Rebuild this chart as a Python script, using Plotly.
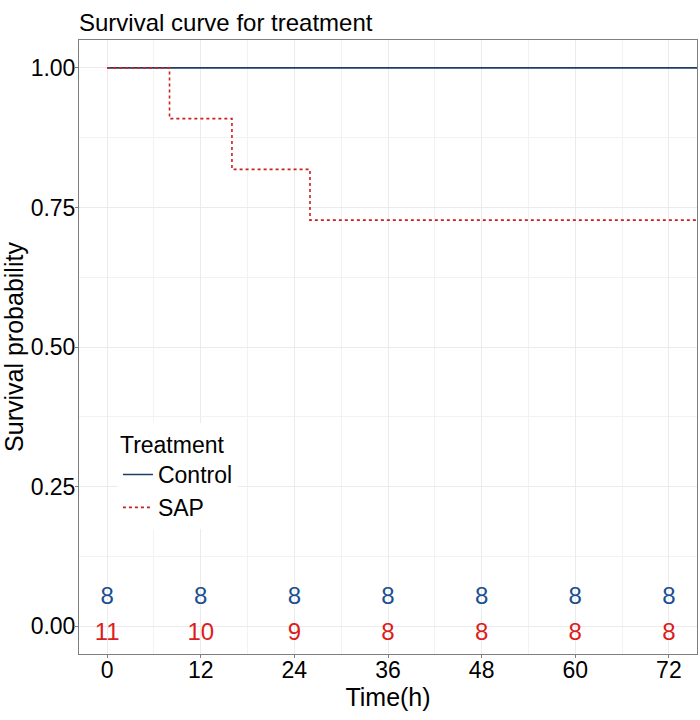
import plotly.graph_objects as go

# Kaplan-Meier step data
time_control = [0, 80]
surv_control = [1.0, 1.0]
time_sap = [0, 8, 16, 26, 80]
surv_sap = [1.0, 10/11, 9/11, 8/11, 8/11]

# Number-at-risk table
risk_times = [0, 12, 24, 36, 48, 60, 72]
risk_control = [8, 8, 8, 8, 8, 8, 8]
risk_sap = [11, 10, 9, 8, 8, 8, 8]

x_ticks = [0, 12, 24, 36, 48, 60, 72]
y_ticks = [0.0, 0.25, 0.5, 0.75, 1.0]
y_ticklabels = ["0.00", "0.25", "0.50", "0.75", "1.00"]

blue_line = "#1c3f63"
red_line = "#cc1f1f"
blue_txt = "#1b4f8f"
red_txt = "#dd1c1c"
font = "Liberation Sans, Arial, sans-serif"

fig = go.Figure()
fig.add_trace(go.Scatter(x=time_control, y=surv_control, mode="lines", name="Control",
                         line=dict(color=blue_line, width=1.6, shape="hv")))
fig.add_trace(go.Scatter(x=time_sap, y=surv_sap, mode="lines", name="SAP",
                         line=dict(color=red_line, width=1.6, shape="hv", dash="dot")))

fig.add_trace(go.Scatter(x=risk_times, y=[0.050] * len(risk_times), mode="text",
                         text=[str(v) for v in risk_control], showlegend=False,
                         textfont=dict(color=blue_txt, size=24, family=font), hoverinfo="skip"))
fig.add_trace(go.Scatter(x=risk_times, y=[-0.015] * len(risk_times), mode="text",
                         text=[str(v) for v in risk_sap], showlegend=False,
                         textfont=dict(color=red_txt, size=24, family=font), hoverinfo="skip"))

minor_grid = dict(showgrid=True, gridcolor="#f2f2f2", gridwidth=0.6)

fig.update_layout(
    width=700, height=720,
    margin=dict(l=79, r=3, t=40, b=66, autoexpand=False),
    paper_bgcolor="white", plot_bgcolor="white",
    font=dict(family=font, color="black"),
    title=dict(text="Survival curve for treatment", xref="paper", x=0, xanchor="left",
               y=1 - 23 / 720, yanchor="middle", font=dict(size=24, color="black")),
    xaxis=dict(range=[-3.6, 75.6], tickvals=x_ticks, ticktext=[str(v) for v in x_ticks],
               tickfont=dict(size=23), showgrid=True, gridcolor="#ebebeb", gridwidth=1,
               minor=dict(tickvals=[6, 18, 30, 42, 54, 66], **minor_grid),
               zeroline=False, showline=True, linecolor="#7f7f7f", linewidth=1, mirror=True,
               ticks="outside", ticklen=3, tickcolor="#7f7f7f", automargin=False,
               ticklabelstandoff=-8,
               title=dict(text="Time(h)", font=dict(size=25), standoff=0)),
    yaxis=dict(range=[-0.05, 1.05], tickvals=y_ticks, ticktext=y_ticklabels,
               tickfont=dict(size=23), showgrid=True, gridcolor="#ebebeb", gridwidth=1,
               minor=dict(tickvals=[0.125, 0.375, 0.625, 0.875], **minor_grid),
               zeroline=False, showline=True, linecolor="#7f7f7f", linewidth=1, mirror=True,
               ticks="outside", ticklen=3, tickcolor="#7f7f7f", automargin=False,
               ticklabelstandoff=-5,
               title=dict(text="Survival probability", font=dict(size=25), standoff=2)),
    legend=dict(x=0.063, y=0.376, xanchor="left", yanchor="top",
                bgcolor="white", font=dict(size=23), itemwidth=30,
                title=dict(text="Treatment", font=dict(size=23)),
                tracegroupgap=0),
    showlegend=True,
)

fig.write_html("out.html", config={"displayModeBar": False},
               post_script="document.body.style.margin='0';")
